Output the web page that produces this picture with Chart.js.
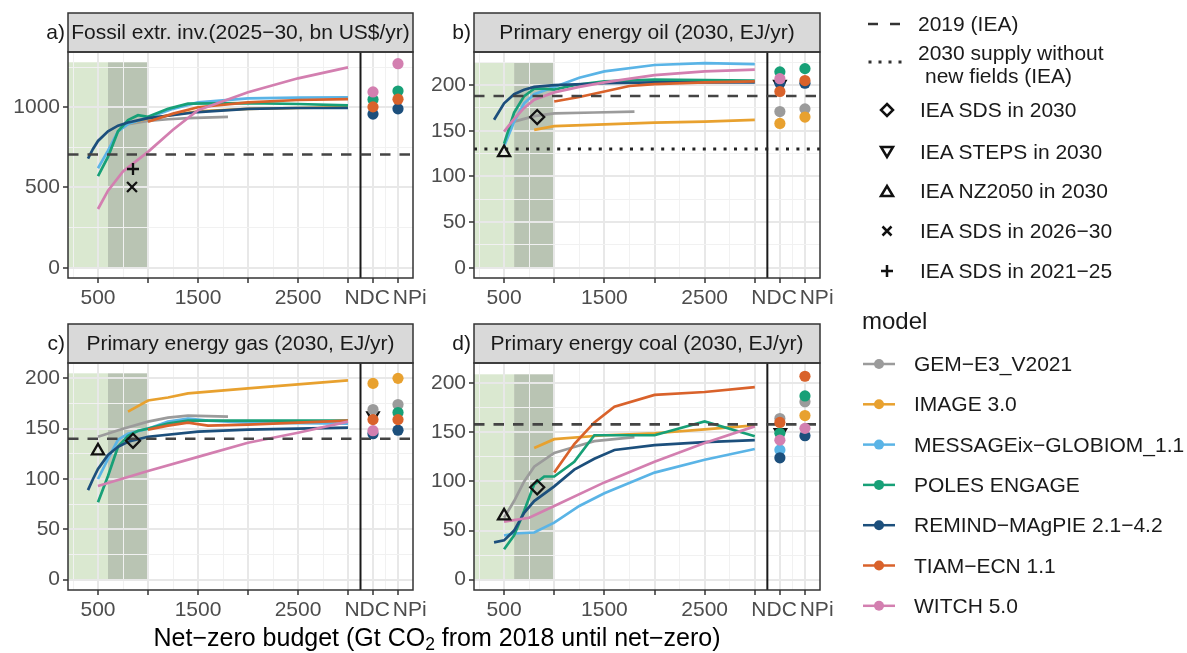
<!DOCTYPE html>
<html>
<head>
<meta charset="utf-8">
<script src="https://cdn.jsdelivr.net/npm/chart.js@4.4.1/dist/chart.umd.min.js"></script>
<style>
  body { margin: 0; background: #fff; font-family: "Liberation Sans", Arial, sans-serif; }
  #wrap { position: relative; width: 1187px; height: 653px; overflow: hidden; background: #fff; }
  canvas { position: absolute; }
  .lg { position: absolute; font-size: 21px; line-height: 24px; color: #1a1a1a; white-space: nowrap; }
  #xtitle { position: absolute; left: 0; width: 874px; top: 623px; text-align: center; font-size: 25px; line-height: 28px; color: #000; }
  #xtitle sub { font-size: 70%; line-height: 0; vertical-align: -0.2em; }
  svg { position: absolute; overflow: visible; }
</style>
</head>
<body>
<div id="wrap">
  <canvas id="pa" width="432" height="320" style="left:0;top:0"></canvas>
  <canvas id="pb" width="425" height="320" style="left:420px;top:0"></canvas>
  <canvas id="pc" width="432" height="320" style="left:0;top:310px"></canvas>
  <canvas id="pd" width="425" height="320" style="left:420px;top:310px"></canvas>
  <div id="xtitle">Net−zero budget (Gt CO<sub>2</sub> from 2018 until net−zero)</div>
  <svg id="legsym" width="347" height="653" style="left:840px;top:0"></svg>
</div>
<script>
Chart.defaults.font.family = '"Liberation Sans", Arial, sans-serif'
Chart.defaults.font.size = 21
Chart.defaults.color = '#4d4d4d'

// --- models (legend order) ---
const models = ['GEM−E3_V2021', 'IMAGE 3.0', 'MESSAGEix−GLOBIOM_1.1', 'POLES ENGAGE', 'REMIND−MAgPIE 2.1−4.2', 'TIAM−ECN 1.1', 'WITCH 5.0']
const modelColors = ['#9b9b9b', '#e8a12f', '#5ab4e6', '#17a077', '#1c4f7c', '#d9622b', '#d37fb0']

// --- x axis: net-zero budget, plus NDC / NPi columns ---
const xRange = [200, 3650]
const xBreaks = [250, 500, 750, 1000, 1250, 1500, 1750, 2000, 2250, 2500, 2750, 3000, 3125, 3250, 3375, 3500]
const xMajor = [500, 1000, 1500, 2000, 2500, 3000, 3250, 3500]
const xLabelValues = [500, 1500, 2500, 3250, 3500]
const xLabelTexts = ['500', '1500', '2500', 'NDC\u00a0\u00a0', '\u00a0\u00a0\u00a0\u00a0NPi']
const scenarioX = [3250, 3500] // NDC, NPi
const separatorX = 3125
const budgetShade = [600, 1000]

// --- panel texts ---
const panelTitles = ['Fossil extr. inv.(2025−30, bn US$/yr)', 'Primary energy oil (2030, EJ/yr)', 'Primary energy gas (2030, EJ/yr)', 'Primary energy coal (2030, EJ/yr)']
const panelLetters = ['a)', 'b)', 'c)', 'd)']

// --- y axes ---
const yRanges = [[-64, 1344], [-11.25, 236.25], [-10.25, 215.25], [-10.5, 220.5]]
const yBreaksInv = [0, 250, 500, 750, 1000, 1250]
const yBreaksEJ = [0, 25, 50, 75, 100, 125, 150, 175, 200, 225]
const yLabelStep = [500, 50, 50, 50]
const shadeTop = [1280, 225, 205, 209]

// --- reference levels ---
const hist2019 = [705, 188, 140, 158]
const noNewFields = [null, 130, null, null]

// --- IEA points [budget, value] ---
const ieaSds2030 = [null, [830, 165], [850, 138], [830, 94]]
const ieaSteps2030 = [null, [3250, 201], [3250, 163], [3255, 150]]
const ieaNz2050 = [null, [500, 126], [500, 128], [500, 65]]
const ieaSds2630 = [[840, 503], null, null, null]
const ieaSds2125 = [[850, 615], null, null, null]

// --- a) fossil extraction investment ---
const invGEM = [[800, 895], [1000, 915], [1200, 925], [1400, 932], [1800, 940]]
const invIMAGE = [[800, 895], [1000, 930], [1500, 975], [2000, 990], [2500, 995], [3000, 1000]]
const invMESSAGE = [[500, 620], [600, 730], [700, 850], [800, 895], [1000, 935], [1250, 990], [1500, 1030], [2000, 1055], [2500, 1060], [3000, 1062]]
const invPOLES = [[500, 571], [600, 690], [700, 850], [800, 920], [900, 950], [1000, 940], [1200, 990], [1400, 1022], [2000, 1025], [2500, 1020], [3000, 1012]]
const invREMIND = [[400, 680], [450, 740], [500, 790], [600, 850], [700, 885], [800, 905], [1000, 932], [1500, 970], [2000, 990], [2500, 995], [3000, 995]]
const invTIAM = [[1000, 910], [1250, 960], [1500, 1000], [2000, 1030], [2500, 1045], [3000, 1050]]
const invWITCH = [[500, 366], [600, 480], [750, 600], [1000, 722], [1250, 860], [1500, 981], [2000, 1093], [2500, 1180], [3000, 1248]]
const invNDC = [null, null, null, 1048, 957, 1002, 1095]
const invNPi = [null, null, null, 1101, 990, 1050, 1271]

// --- b) oil ---
const oilGEM = [[600, 160], [800, 166], [1000, 169], [1400, 170], [1800, 171]]
const oilIMAGE = [[800, 151], [1000, 155], [1500, 157], [2000, 159], [2500, 160], [3000, 162]]
const oilMESSAGE = [[500, 133], [600, 160], [700, 180], [800, 190], [1000, 198], [1250, 208], [1500, 215], [2000, 222], [2500, 224], [3000, 223]]
const oilPOLES = [[500, 136], [600, 170], [700, 188], [800, 196], [900, 196], [1000, 195], [1200, 200], [1500, 204], [2000, 206], [3000, 205]]
const oilREMIND = [[400, 162], [500, 180], [600, 190], [700, 195], [800, 198], [1000, 200], [1500, 202], [2000, 203], [3000, 203]]
const oilTIAM = [[1000, 182], [1250, 187], [1500, 193], [1750, 199], [2000, 201], [2500, 203], [3000, 204]]
const oilWITCH = [[500, 149], [600, 163], [700, 175], [800, 184], [1000, 192], [1250, 198], [1500, 203], [2000, 211], [2500, 215], [3000, 217]]
const oilNDC = [171, 158, null, 214.5, 202, 193, 207]
const oilNPi = [174, 165, null, 218, 202, 205, null]

// --- c) gas ---
const gasGEM = [[500, 142], [750, 150], [1000, 157], [1200, 161], [1400, 163], [1800, 162]]
const gasIMAGE = [[800, 167], [1000, 178], [1200, 181], [1400, 185], [2000, 190], [2500, 194], [3000, 198]]
const gasMESSAGE = [[500, 100], [600, 120], [700, 139], [800, 145], [1000, 150], [1200, 157], [1400, 160], [1600, 158], [2000, 156], [3000, 155]]
const gasPOLES = [[500, 77], [600, 103], [700, 132], [800, 143], [900, 148], [1000, 150], [1200, 155], [1400, 158], [2000, 158], [3000, 158]]
const gasREMIND = [[400, 89], [450, 100], [500, 110], [600, 124], [700, 132], [800, 137], [1000, 142], [1500, 147], [2000, 149], [3000, 151]]
const gasTIAM = [[1000, 149], [1200, 153], [1400, 156], [1600, 153], [2000, 154], [2500, 156], [3000, 158]]
const gasWITCH = [[500, 93], [1000, 108], [1500, 122], [2000, 136], [2500, 146], [3000, 157]]
const gasNDC = [169, 195, null, null, 145, 159, 148]
const gasNPi = [174, 200, null, 166, 148.5, 159, null]

// --- d) coal ---
const coalGEM = [[500, 63], [600, 80], [700, 100], [800, 115], [1000, 129], [1200, 135], [1400, 141], [1800, 145]]
const coalIMAGE = [[800, 134], [1000, 143], [1500, 147], [2000, 149], [2500, 153], [3000, 157]]
const coalMESSAGE = [[500, 45], [600, 47], [800, 48], [1000, 58], [1250, 75], [1500, 88], [2000, 109], [2500, 122], [3000, 133]]
const coalPOLES = [[500, 31], [600, 45], [700, 70], [800, 97], [900, 105], [1000, 105], [1200, 120], [1400, 147], [2000, 147], [2500, 161], [3000, 146]]
const coalREMIND = [[400, 38], [500, 40], [600, 50], [700, 68], [800, 80], [1000, 95], [1200, 112], [1400, 123], [1600, 132], [2000, 137], [2500, 140], [3000, 142]]
const coalTIAM = [[1000, 109], [1200, 138], [1400, 160], [1600, 176], [2000, 188], [2500, 191], [3000, 196]]
const coalWITCH = [[500, 59], [750, 63], [1000, 75], [1500, 99], [2000, 120], [2500, 139], [3000, 156]]
const coalNDC = [164, null, 132, 149, 124, 160, 142]
const coalNPi = [181, 167, null, 187, 146.5, 207, 154]

const panelLines = [
  [invGEM, invIMAGE, invMESSAGE, invPOLES, invREMIND, invTIAM, invWITCH],
  [oilGEM, oilIMAGE, oilMESSAGE, oilPOLES, oilREMIND, oilTIAM, oilWITCH],
  [gasGEM, gasIMAGE, gasMESSAGE, gasPOLES, gasREMIND, gasTIAM, gasWITCH],
  [coalGEM, coalIMAGE, coalMESSAGE, coalPOLES, coalREMIND, coalTIAM, coalWITCH]
]
const panelNDC = [invNDC, oilNDC, gasNDC, coalNDC]
const panelNPi = [invNPi, oilNPi, gasNPi, coalNPi]
const panelYBreaks = [yBreaksInv, yBreaksEJ, yBreaksEJ, yBreaksEJ]

const toXY = p => ({ x: p[0], y: p[1] })

// фон, разделитель, рамка и полоска заголовка панели
const panelPlugin = {
  id: 'panel',
  beforeDraw(chart, args, opts) {
    const { ctx, chartArea: a, scales: { x, y } } = chart
    const y0 = y.getPixelForValue(0)
    const y1 = y.getPixelForValue(opts.shadeTop)
    const xm = x.getPixelForValue(budgetShade[0])
    const xr = x.getPixelForValue(budgetShade[1])
    ctx.save()
    ctx.fillStyle = '#dae8d0'
    ctx.fillRect(a.left, y1, xm - a.left, y0 - y1)
    ctx.fillStyle = '#b9c4b3'
    ctx.fillRect(xm, y1, xr - xm, y0 - y1)
    ctx.restore()
  },
  beforeDatasetsDraw(chart) {
    const { ctx, chartArea: a, scales: { x } } = chart
    const px = x.getPixelForValue(separatorX)
    ctx.save()
    ctx.strokeStyle = '#1a1a1a'
    ctx.lineWidth = 2
    ctx.beginPath()
    ctx.moveTo(px, a.top)
    ctx.lineTo(px, a.bottom)
    ctx.stroke()
    ctx.restore()
  },
  afterDraw(chart, args, opts) {
    const { ctx, chartArea: a } = chart
    const stripH = 39
    ctx.save()
    ctx.fillStyle = '#d9d9d9'
    ctx.fillRect(a.left, a.top - stripH, a.right - a.left, stripH)
    ctx.strokeStyle = '#333333'
    ctx.lineWidth = 1.5
    ctx.strokeRect(a.left, a.top - stripH, a.right - a.left, stripH)
    ctx.strokeRect(a.left, a.top, a.right - a.left, a.bottom - a.top)
    ctx.fillStyle = '#1a1a1a'
    ctx.font = '21px "Liberation Sans", Arial, sans-serif'
    ctx.textBaseline = 'middle'
    ctx.textAlign = 'center'
    ctx.fillText(opts.title, (a.left + a.right) / 2, a.top - stripH / 2 + 1)
    ctx.textAlign = 'right'
    ctx.fillText(opts.letter, a.left - 3, a.top - stripH / 2 + 1)
    ctx.restore()
  }
}

function buildDatasets(k) {
  const list = []
  panelLines[k].forEach((pts, i) => {
    list.push({ data: pts.map(toXY), showLine: true, borderColor: modelColors[i], borderWidth: 2.7, pointRadius: 0, tension: 0 })
  })
  list.push({ data: [toXY([xRange[0], hist2019[k]]), toXY([xRange[1], hist2019[k]])], showLine: true,
    borderColor: '#444444', borderWidth: 2.6, borderDash: [10.5, 9], pointRadius: 0 })
  if (noNewFields[k] !== null) {
    list.push({ data: [toXY([xRange[0], noNewFields[k]]), toXY([xRange[1], noNewFields[k]])], showLine: true,
      borderColor: '#222222', borderWidth: 3, borderDash: [3, 7.4], pointRadius: 0 })
  }
  const marker = (p, style, r, rot) => {
    if (!p) return
    list.push({ data: [toXY(p)], showLine: false, pointStyle: style, pointRadius: r, pointRotation: rot || 0,
      pointBorderColor: '#111111', pointBackgroundColor: 'rgba(0,0,0,0)', pointBorderWidth: 2.3 })
  }
  marker(ieaSds2030[k], 'rectRot', 7)
  marker(ieaNz2050[k], 'triangle', 7)
  marker(ieaSds2630[k], 'crossRot', 7)
  marker(ieaSds2125[k], 'cross', 6)
  marker(ieaSteps2030[k], 'triangle', 6.5, 180)
  models.forEach((m, i) => {
    const pts = []
    if (panelNDC[k][i] !== null) pts.push(toXY([scenarioX[0], panelNDC[k][i]]))
    if (panelNPi[k][i] !== null) pts.push(toXY([scenarioX[1], panelNPi[k][i]]))
    list.push({ data: pts, showLine: false, pointStyle: 'circle', pointRadius: 5.6, pointBorderWidth: 0,
      pointBackgroundColor: modelColors[i], pointBorderColor: modelColors[i] })
  })
  // в Chart.js первый датасет рисуется сверху, поэтому задаём order явно
  list.forEach((d, i) => { d.order = 1000 - i })
  return list
}

const boxes = [
  { id: 'pa', yWidth: 68, xHeight: 42, pad: { top: 52, right: 19, left: 0, bottom: 0 } },
  { id: 'pb', yWidth: 54, xHeight: 42, pad: { top: 52, right: 25, left: 0, bottom: 0 } },
  { id: 'pc', yWidth: 68, xHeight: 40, pad: { top: 53, right: 19, left: 0, bottom: 0 } },
  { id: 'pd', yWidth: 54, xHeight: 40, pad: { top: 53, right: 25, left: 0, bottom: 0 } }
]

boxes.forEach((box, k) => {
  const isMajorX = v => xMajor.includes(v)
  const isMajorY = v => v % yLabelStep[k] === 0
  try {
    new Chart(document.getElementById(box.id), {
      type: 'scatter',
      data: { datasets: buildDatasets(k) },
      options: {
        responsive: false,
        animation: false,
        devicePixelRatio: 1,
        layout: { padding: box.pad },
        plugins: {
          legend: { display: false },
          tooltip: { enabled: false },
          panel: { title: panelTitles[k], letter: panelLetters[k], shadeTop: shadeTop[k] }
        },
        scales: {
          x: {
            type: 'linear',
            min: xRange[0],
            max: xRange[1],
            afterBuildTicks: s => { s.ticks = xBreaks.map(v => ({ value: v })) },
            afterFit: s => { s.height = box.xHeight; s.paddingLeft = 0; s.paddingRight = 0 },
            border: { display: false },
            grid: {
              color: c => (c.tick && isMajorX(c.tick.value)) ? '#e8e8e8' : '#f1f1f1',
              lineWidth: c => (c.tick && isMajorX(c.tick.value)) ? 2 : 1,
              tickColor: c => (c.tick && isMajorX(c.tick.value)) ? '#333333' : 'rgba(0,0,0,0)',
              tickLength: 5,
              tickWidth: 1.5
            },
            ticks: {
              autoSkip: false,
              maxRotation: 0,
              padding: 3,
              color: '#4d4d4d',
              callback: v => {
                const j = xLabelValues.indexOf(v)
                return j >= 0 ? xLabelTexts[j] : ''
              }
            }
          },
          y: {
            type: 'linear',
            min: yRanges[k][0],
            max: yRanges[k][1],
            afterBuildTicks: s => { s.ticks = panelYBreaks[k].filter(v => v <= yRanges[k][1]).map(v => ({ value: v })) },
            afterFit: s => { s.width = box.yWidth; s.paddingTop = 0; s.paddingBottom = 0 },
            border: { display: false },
            grid: {
              color: c => (c.tick && isMajorY(c.tick.value)) ? '#e8e8e8' : '#f1f1f1',
              lineWidth: c => (c.tick && isMajorY(c.tick.value)) ? 2 : 1,
              tickColor: c => (c.tick && isMajorY(c.tick.value)) ? '#333333' : 'rgba(0,0,0,0)',
              tickLength: 5,
              tickWidth: 1.5
            },
            ticks: {
              autoSkip: false,
              padding: 3,
              color: '#4d4d4d',
              callback: v => isMajorY(v) ? String(v) : ''
            }
          }
        }
      },
      plugins: [panelPlugin]
    })
  } catch (error) {
    console.log(`Ошибка в рендеринге панели ${box.id}: ${error}`)
  }
})

// --- legend (html + svg symbols) ---
const refLegend = [
  { text: '2019 (IEA)', y: 24, left: 918, sym: 'dash' },
  { text: '2030 supply without', y: 53, left: 918, sym: 'dot' },
  { text: 'new fields (IEA)', y: 76, left: 925, sym: null },
  { text: 'IEA SDS in 2030', y: 110, left: 920, sym: 'diamond' },
  { text: 'IEA STEPS in 2030', y: 152, left: 920, sym: 'down' },
  { text: 'IEA NZ2050 in 2030', y: 191, left: 920, sym: 'up' },
  { text: 'IEA SDS in 2026−30', y: 231, left: 920, sym: 'x' },
  { text: 'IEA SDS in 2021−25', y: 271, left: 920, sym: 'plus' }
]
const wrap = document.getElementById('wrap')
const svg = document.getElementById('legsym')
const sx = 47
let sv = ''
const addText = (t, left, yc, size) => {
  const d = document.createElement('div')
  d.className = 'lg'
  d.textContent = t
  d.style.left = left + 'px'
  d.style.top = (yc - 12) + 'px'
  if (size) d.style.fontSize = size + 'px'
  wrap.appendChild(d)
}
refLegend.forEach(it => {
  addText(it.text, it.left, it.y)
  const y = it.sym === 'dot' ? 62 : it.y
  if (it.sym === 'dash') sv += `<line x1="28" y1="${y}" x2="38" y2="${y}" stroke="#333" stroke-width="2.5"/><line x1="50" y1="${y}" x2="60" y2="${y}" stroke="#333" stroke-width="2.5"/>`
  if (it.sym === 'dot') [30, 40, 50, 60].forEach(x => { sv += `<rect x="${x - 1.5}" y="${y - 1.5}" width="3" height="3" fill="#333"/>` })
  if (it.sym === 'diamond') sv += `<polygon points="${sx},${y - 6} ${sx + 6},${y} ${sx},${y + 6} ${sx - 6},${y}" fill="none" stroke="#111" stroke-width="2.5"/>`
  if (it.sym === 'down') sv += `<polygon points="${sx - 6},${y - 5} ${sx + 6},${y - 5} ${sx},${y + 5}" fill="none" stroke="#111" stroke-width="2.5"/>`
  if (it.sym === 'up') sv += `<polygon points="${sx - 6},${y + 5} ${sx + 6},${y + 5} ${sx},${y - 5}" fill="none" stroke="#111" stroke-width="2.5"/>`
  if (it.sym === 'x') sv += `<path d="M${sx - 4.5} ${y - 4.5}L${sx + 4.5} ${y + 4.5}M${sx - 4.5} ${y + 4.5}L${sx + 4.5} ${y - 4.5}" stroke="#111" stroke-width="2.5"/>`
  if (it.sym === 'plus') sv += `<path d="M${sx - 6} ${y}L${sx + 6} ${y}M${sx} ${y - 6}L${sx} ${y + 6}" stroke="#111" stroke-width="2.5"/>`
})
addText('model', 862, 321, 24)
models.forEach((m, i) => {
  const y = 364 + i * 40.3
  addText(m, 914, y)
  sv += `<line x1="23" y1="${y}" x2="55" y2="${y}" stroke="${modelColors[i]}" stroke-width="2.5"/><circle cx="39" cy="${y}" r="5" fill="${modelColors[i]}"/>`
})
svg.innerHTML = sv
</script>
</body>
</html>
